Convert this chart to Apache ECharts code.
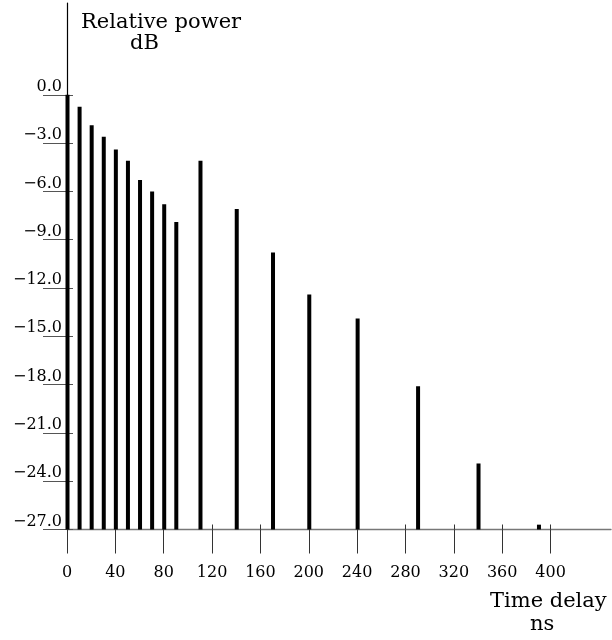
<!DOCTYPE html>
<html>
<head>
<meta charset="utf-8">
<script src="https://cdn.jsdelivr.net/npm/echarts@6/dist/echarts.min.js"></script>
<style>
html,body{margin:0;padding:0;background:#fff;}
#chart{width:612px;height:640px;}
</style>
</head>
<body>
<div id="chart"></div>
<script>
const timeDelay = [0, 10, 20, 30, 40, 50, 60, 70, 80, 90, 110, 140, 170, 200, 240, 290, 340, 390];
const relPower = [0, -0.75, -1.9, -2.6, -3.4, -4.1, -5.3, -6.0, -6.8, -7.9, -4.1, -7.1, -9.8, -12.4, -13.9, -18.1, -22.9, -26.7];
const yTicks = [-27, -24, -21, -18, -15, -12, -9, -6, -3, 0];
const xTicks = [0, 40, 80, 120, 160, 200, 240, 280, 320, 360, 400];
const yFloor = -27;

const FONT = 'DejaVu Serif';
const chart = echarts.init(document.getElementById('chart'), null, {renderer: 'canvas'});

const seriesData = timeDelay.map((t, i) => [t, relPower[i]]);

chart.setOption({
  animation: false,
  backgroundColor: '#fff',
  grid: {left: 67, right: 1, top: 3, bottom: 110.5, containLabel: false, outerBoundsMode: 'none'},
  xAxis: [
    {
      type: 'value', min: 0, max: 450, position: 'bottom',
      axisLine: {show: true, onZero: false, lineStyle: {color: '#777', width: 1.3}},
      axisTick: {show: true, length: 24, customValues: xTicks, lineStyle: {color: '#333', width: 1}},
      axisLabel: {show: true, customValues: xTicks, margin: 35, color: '#000',
        fontFamily: FONT, fontSize: 16},
      splitLine: {show: false}
    },
    {
      type: 'value', min: 0, max: 450, position: 'bottom',
      axisLine: {show: false, onZero: false},
      axisTick: {show: true, inside: true, length: 5, customValues: xTicks, lineStyle: {color: '#333', width: 1}},
      axisLabel: {show: false},
      splitLine: {show: false}
    }
  ],
  yAxis: [
    {
      type: 'value', min: -27, max: 5.7, position: 'left',
      axisLine: {show: true, onZero: false, lineStyle: {color: '#000', width: 1.2}},
      axisTick: {show: true, length: 24, customValues: yTicks, lineStyle: {color: '#555', width: 1}},
      axisLabel: {show: true, customValues: yTicks, margin: 5, color: '#000',
        fontFamily: FONT, fontSize: 16, verticalAlign: 'bottom',
        formatter: v => Number(v).toFixed(1).replace('-', '\u2212')},
      splitLine: {show: false}
    },
    {
      type: 'value', min: -27, max: 5.7, position: 'left',
      axisLine: {show: false, onZero: false},
      axisTick: {show: true, inside: true, length: 6, customValues: yTicks, lineStyle: {color: '#555', width: 1}},
      axisLabel: {show: false},
      splitLine: {show: false}
    }
  ],
  series: [{
    type: 'custom',
    xAxisIndex: 0, yAxisIndex: 0,
    data: seriesData,
    renderItem: function (params, api) {
      const x = api.value(0), y = api.value(1);
      const top = api.coord([x, y]);
      const base = api.coord([x, yFloor]);
      return {
        type: 'rect',
        shape: {x: top[0] - 1.5, y: top[1], width: 4, height: base[1] - top[1]},
        style: {fill: '#000'}
      };
    }
  }],
  graphic: [
    {type: 'text', left: 81, top: 12, style: {text: 'Relative power', font: '21px "DejaVu Serif"', fill: '#000'}},
    {type: 'text', left: 130, top: 33, style: {text: 'dB', font: '21px "DejaVu Serif"', fill: '#000'}},
    {type: 'text', left: 490, top: 591, style: {text: 'Time delay', font: '21px "DejaVu Serif"', fill: '#000'}},
    {type: 'text', left: 530, top: 614, style: {text: 'ns', font: '21px "DejaVu Serif"', fill: '#000'}}
  ]
});
</script>
</body>
</html>
